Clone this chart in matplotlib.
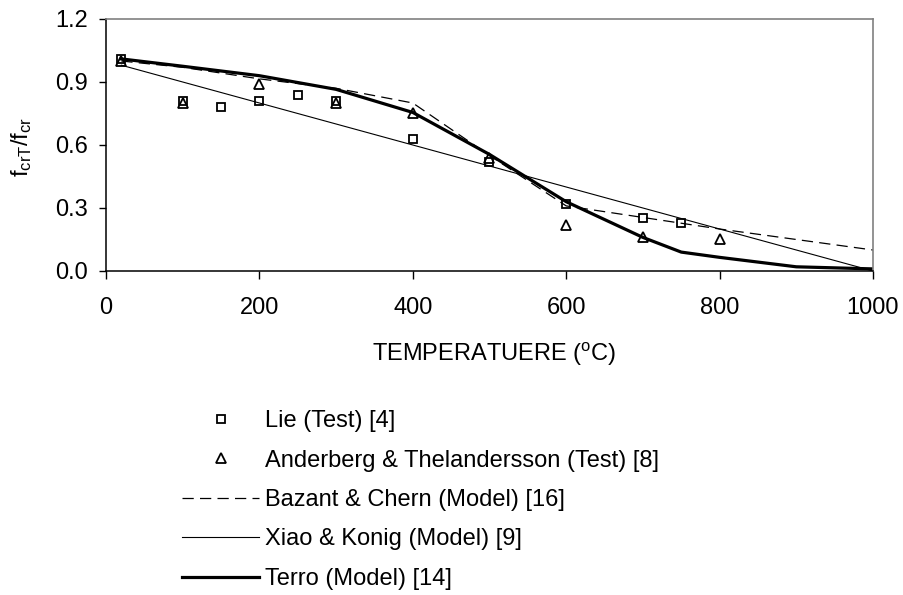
import matplotlib
matplotlib.use("Agg")
import matplotlib.pyplot as plt

plt.rcParams['font.family'] = ['Liberation Sans', 'DejaVu Sans']
plt.rcParams['mathtext.fontset'] = 'custom'
plt.rcParams['mathtext.rm'] = 'Liberation Sans'
plt.rcParams['mathtext.it'] = 'Liberation Sans'

# Test data
lie_T = [20, 100, 150, 200, 250, 300, 400, 500, 600, 700, 750]
lie_f = [1.01, 0.81, 0.78, 0.81, 0.84, 0.81, 0.63, 0.52, 0.32, 0.25, 0.23]

and_T = [20, 100, 200, 300, 400, 500, 600, 700, 800]
and_f = [1.00, 0.80, 0.89, 0.80, 0.75, 0.54, 0.22, 0.16, 0.15]

# Models
baz_T = [20, 100, 200, 300, 400, 500, 600, 700, 800, 900, 1000]
baz_f = [1.00, 0.97, 0.915, 0.87, 0.80, 0.55, 0.31, 0.255, 0.20, 0.15, 0.10]

xiao_T = [20, 400, 1000]
xiao_f = [0.98, 0.60, 0.00]

terro_T = [20, 100, 200, 300, 400, 500, 600, 700, 750, 800, 900, 1000]
terro_f = [1.01, 0.975, 0.93, 0.865, 0.755, 0.555, 0.33, 0.16, 0.09, 0.065, 0.02, 0.01]

xticks = [0, 200, 400, 600, 800, 1000]
yticks = [0.0, 0.3, 0.6, 0.9, 1.2]

FS = 17
W, H = 904, 595
fig = plt.figure(figsize=(W / 100, H / 100), dpi=100)
ax = fig.add_axes([106 / W, 1 - 271 / H, 767 / W, 252 / H])

ax.plot(baz_T, baz_f, color='black', lw=0.9, ls=(0, (9, 5)), label='Bazant & Chern (Model) [16]')
ax.plot(xiao_T, xiao_f, color='black', lw=0.8, label='Xiao & Konig (Model) [9]')
ax.plot(terro_T, terro_f, color='black', lw=2.3, label='Terro (Model) [14]')
ax.plot(lie_T, lie_f, ls='none', marker='s', ms=6.3, mfc='none', mec='black', mew=1.3,
        label='Lie (Test) [4]')
ax.plot(and_T, and_f, ls='none', marker='^', ms=7.3, mfc='none', mec='black', mew=1.3,
        label='Anderberg & Thelandersson (Test) [8]')

ax.set_xlim(0, 1000)
ax.set_ylim(0, 1.2)
ax.set_xticks(xticks)
ax.set_yticks(yticks)
ax.set_yticklabels([f'{v:.1f}' for v in yticks])
ax.tick_params(direction='out', length=5.4, width=1, labelsize=FS, colors='black')
ax.tick_params(axis='x', pad=13)
ax.tick_params(axis='y', pad=7.5)

for s in ['top', 'right']:
    ax.spines[s].set_color('#808080')
    ax.spines[s].set_linewidth(1.2)
for s in ['left', 'bottom']:
    ax.spines[s].set_color('black')
    ax.spines[s].set_linewidth(1.1)

bottom_px = H - 271
ax.set_xlabel('TEMPERATUERE ($\\mathregular{^{o}}$C)', fontsize=FS)
ax.xaxis.label.set_va('baseline')
ax.xaxis.set_label_coords((494 - 106) / 767, ((H - 361) - bottom_px) / 252)
ax.set_ylabel('$\\mathregular{f_{crT}/f_{cr}}$', fontsize=FS)
ax.yaxis.label.set_va('center')
ax.yaxis.set_label_coords((21.5 - 106) / 767, ((H - 146.5) - bottom_px) / 252)

handles, labels = ax.get_legend_handles_labels()
order = [3, 4, 0, 1, 2]
hs = [handles[i] for i in order]
ls_ = [labels[i] for i in order]

fs_px = FS * 100 / 72
target_pitch = 39.5
target_x = 265.0
target_base = H - 427.0


def make_legend(anchor, spacing):
    return fig.legend(hs, ls_, loc='upper left', bbox_to_anchor=anchor,
                      frameon=False, fontsize=FS, handlelength=77 / fs_px,
                      handletextpad=0.25, labelspacing=spacing, borderpad=0,
                      borderaxespad=0, numpoints=1, markerscale=0.95)


def baselines(leg):
    fig.canvas.draw()
    pts = []
    for t in leg.get_texts():
        pts.append(t.get_transform().transform(t.get_position()))
    return pts


anchor = [183 / W, 1 - 410 / H]
spacing = 0.6
leg = make_legend(anchor, spacing)
for _ in range(3):
    pts = baselines(leg)
    pitch = (pts[0][1] - pts[-1][1]) / (len(pts) - 1)
    spacing += (target_pitch - pitch) / fs_px
    dx = target_x - pts[0][0]
    dy = target_base - pts[0][1]
    anchor = [anchor[0] + dx / W, anchor[1] + dy / H]
    leg.remove()
    leg = make_legend(anchor, spacing)

fig.savefig('out.png', dpi=100)
